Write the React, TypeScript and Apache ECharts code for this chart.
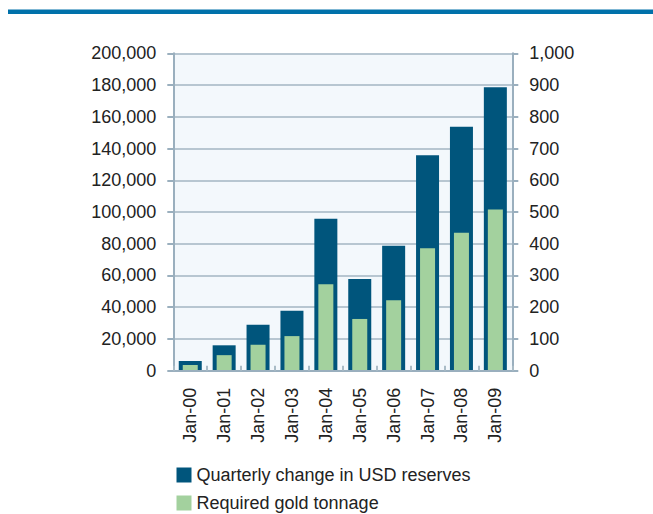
import React, { useEffect, useRef } from "react";
import * as echarts from "echarts";

const categories = ["Jan-00", "Jan-01", "Jan-02", "Jan-03", "Jan-04", "Jan-05", "Jan-06", "Jan-07", "Jan-08", "Jan-09"];
const usdReserves = [6100, 16000, 29000, 37800, 95800, 57800, 78800, 135700, 153700, 178600];
const goldTonnage = [18, 49, 82, 109, 272, 163, 222, 386, 435, 508];
const seriesNames = ["Quarterly change in USD reserves", "Required gold tonnage"];

const FONT = "Liberation Sans, Arial, sans-serif";
const AXIS = "#9AAFBE";
const GRID = "#A3B6C3";
const TXT = "#222222";

export default function App() {
  const ref = useRef<HTMLDivElement>(null);
  useEffect(() => {
    document.body.style.margin = "0";
    const chart = echarts.init(ref.current!, undefined, { renderer: "svg" });
    const fmt = (v: number) => v.toLocaleString("en-US");
    const legendBase = {
      orient: "horizontal",
      left: 176.5,
      itemWidth: 15,
      itemHeight: 15,
      icon: "rect",
      padding: 0,
      textStyle: { fontSize: 18, color: TXT, fontFamily: FONT },
    };
    chart.setOption({
      animation: false,
      textStyle: { fontFamily: FONT },
      graphic: [
        { type: "rect", shape: { x: 8, y: 9.5, width: 645, height: 4.5 }, style: { fill: "#0071AA" } },
      ],
      grid: {
        left: 173.3,
        right: 140.7,
        top: 53.3,
        bottom: 143.3,
        show: true,
        backgroundColor: "#F3F8FC",
        borderWidth: 0,
        containLabel: false,
      },
      legend: [
        { ...legendBase, top: 466, data: [seriesNames[0]] },
        { ...legendBase, top: 494, data: [seriesNames[1]] },
      ],
      xAxis: [
        {
          type: "category",
          data: categories,
          boundaryGap: true,
          axisLine: { lineStyle: { color: AXIS, width: 2 } },
          axisTick: { show: true, inside: true, length: 5, interval: 0, lineStyle: { color: "#A9BBC6", width: 2 } },
          axisLabel: { rotate: 90, fontSize: 18, color: TXT, margin: 17, interval: 0, fontFamily: FONT },
          splitLine: { show: false },
          z: 5,
        },
        {
          type: "category",
          data: categories,
          show: false,
        },
      ],
      yAxis: [
        {
          type: "value",
          min: 0,
          max: 200000,
          interval: 20000,
          axisLine: { show: true, lineStyle: { color: AXIS, width: 2 } },
          axisTick: { show: true, length: 6, lineStyle: { color: AXIS, width: 2 } },
          axisLabel: { fontSize: 18, color: TXT, margin: 17, formatter: fmt, fontFamily: FONT },
          splitLine: { show: true, lineStyle: { color: GRID, width: 1.5 } },
        },
        {
          type: "value",
          min: 0,
          max: 1000,
          interval: 100,
          position: "right",
          axisLine: { show: true, lineStyle: { color: AXIS, width: 2 } },
          axisTick: { show: true, length: 6, lineStyle: { color: AXIS, width: 2 } },
          axisLabel: { fontSize: 18, color: TXT, margin: 17, formatter: fmt, fontFamily: FONT },
          splitLine: { show: false },
        },
      ],
      series: [
        {
          name: seriesNames[0],
          type: "bar",
          data: usdReserves,
          xAxisIndex: 0,
          yAxisIndex: 0,
          barWidth: 23,
          itemStyle: { color: "#00557C" },
        },
        {
          name: seriesNames[1],
          type: "bar",
          data: goldTonnage,
          xAxisIndex: 1,
          yAxisIndex: 1,
          barWidth: 15,
          itemStyle: { color: "#A3D19E" },
        },
      ],
    });
    return () => chart.dispose();
  }, []);
  return <div ref={ref} style={{ width: 653, height: 514 }} />;
}
